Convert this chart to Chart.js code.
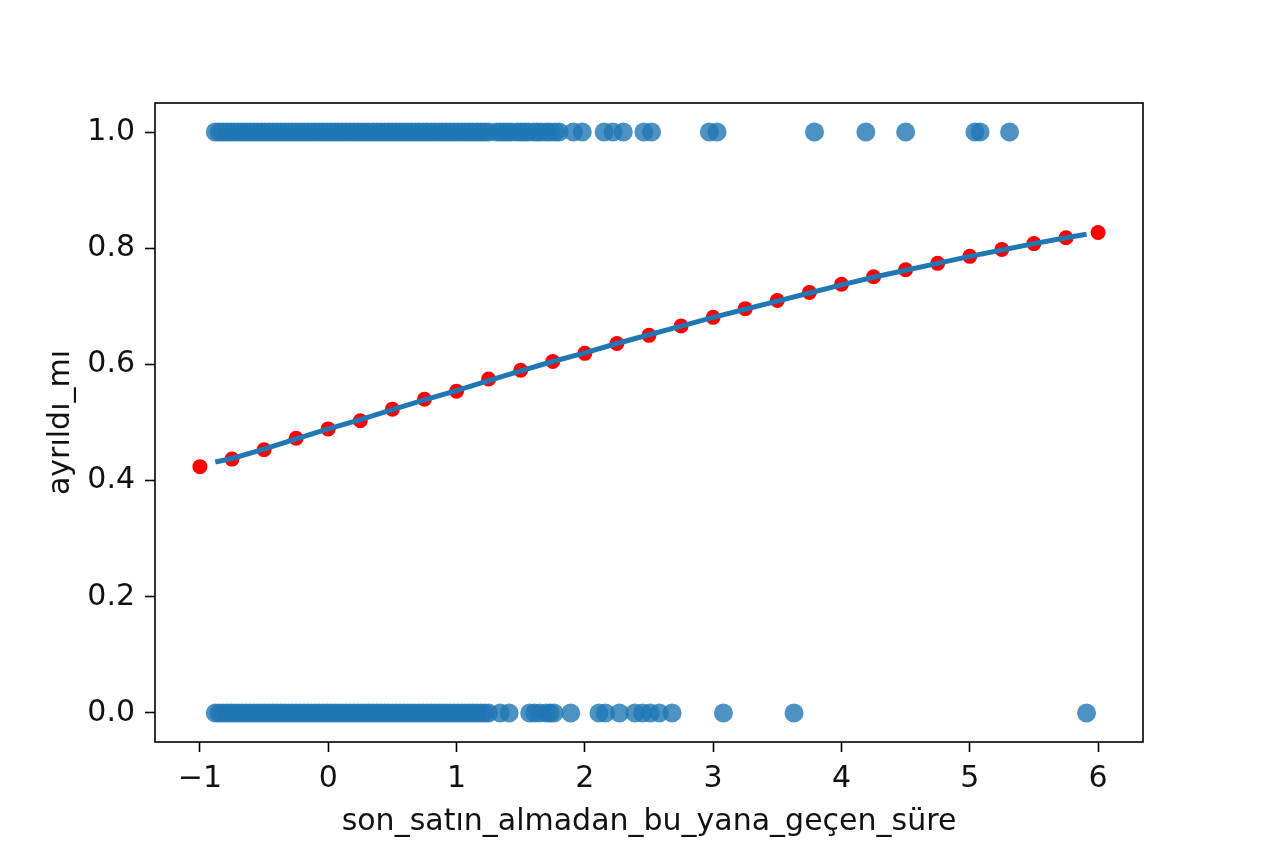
<!DOCTYPE html>
<html lang="tr">
<head>
  <meta charset="utf-8">
  <title>ayrıldı_mı ~ son_satın_almadan_bu_yana_geçen_süre</title>
  <style>
    html, body { margin: 0; padding: 0; background: #fff; }
    #chart { display: block; }
  </style>
</head>
<body>
  <canvas id="chart" width="1264" height="848"></canvas>
  <script src="https://cdn.jsdelivr.net/npm/chart.js@4/dist/chart.umd.min.js"></script>
  <script>
    // observed points, y = 1
    const onesX = [-0.88, -0.85, -0.82, -0.79, -0.76, -0.73, -0.70, -0.67, -0.64, -0.61,
      -0.58, -0.55, -0.52, -0.49, -0.46, -0.43, -0.40, -0.37, -0.34, -0.31, -0.28, -0.25,
      -0.22, -0.19, -0.16, -0.13, -0.10, -0.07, -0.04, -0.01, 0.02, 0.05, 0.08, 0.11, 0.14,
      0.17, 0.20, 0.23, 0.26, 0.29, 0.32, 0.35, 0.38, 0.41, 0.44, 0.47, 0.50, 0.53, 0.56,
      0.59, 0.62, 0.65, 0.68, 0.71, 0.74, 0.77, 0.80, 0.83, 0.86, 0.89, 0.92, 0.95, 0.98,
      1.01, 1.04, 1.07, 1.10, 1.13, 1.16, 1.19, 1.22, 1.25,
      1.31, 1.34, 1.37, 1.40, 1.43, 1.47, 1.50, 1.53, 1.56, 1.60, 1.63, 1.66, 1.70, 1.73,
      1.77, 1.80, 1.91, 1.98, 2.15, 2.22, 2.30, 2.46, 2.52, 2.97, 3.03, 3.79, 4.19, 4.50,
      5.04, 5.08, 5.31];

    // observed points, y = 0
    const zerosX = [-0.88, -0.85, -0.82, -0.79, -0.76, -0.73, -0.70, -0.67, -0.64, -0.61,
      -0.58, -0.55, -0.52, -0.49, -0.46, -0.43, -0.40, -0.37, -0.34, -0.31, -0.28, -0.25,
      -0.22, -0.19, -0.16, -0.13, -0.10, -0.07, -0.04, -0.01, 0.02, 0.05, 0.08, 0.11, 0.14,
      0.17, 0.20, 0.23, 0.26, 0.29, 0.32, 0.35, 0.38, 0.41, 0.44, 0.47, 0.50, 0.53, 0.56,
      0.59, 0.62, 0.65, 0.68, 0.71, 0.74, 0.77, 0.80, 0.83, 0.86, 0.89, 0.92, 0.95, 0.98,
      1.01, 1.04, 1.07, 1.10, 1.13, 1.16, 1.19, 1.22, 1.25,
      1.34, 1.41, 1.57, 1.61, 1.65, 1.70, 1.73, 1.76, 1.89, 2.11, 2.16, 2.27, 2.39, 2.45,
      2.51, 2.58, 2.68, 3.08, 3.63, 5.91];

    // predicted probabilities (red dots)
    const predX = [-1, -0.75, -0.5, -0.25, 0, 0.25, 0.5, 0.75, 1, 1.25, 1.5, 1.75, 2, 2.25,
      2.5, 2.75, 3, 3.25, 3.5, 3.75, 4, 4.25, 4.5, 4.75, 5, 5.25, 5.5, 5.75, 6];
    const predY = [0.424, 0.437, 0.453, 0.473, 0.489, 0.503, 0.523, 0.540, 0.554, 0.575,
      0.590, 0.605, 0.619, 0.636, 0.650, 0.666, 0.681, 0.696, 0.710, 0.724, 0.738, 0.751,
      0.763, 0.774, 0.786, 0.798, 0.808, 0.818, 0.827];

    // fitted curve
    const fitX = [-0.88, -0.75, -0.5, -0.25, 0, 0.25, 0.5, 0.75, 1, 1.25, 1.5, 1.75, 2, 2.25,
      2.5, 2.75, 3, 3.25, 3.5, 3.75, 4, 4.25, 4.5, 4.75, 5, 5.25, 5.5, 5.75, 5.91];
    const fitY = [0.432, 0.438, 0.454, 0.472, 0.489, 0.505, 0.522, 0.539, 0.555, 0.572,
      0.589, 0.605, 0.620, 0.636, 0.651, 0.666, 0.681, 0.695, 0.709, 0.723, 0.737, 0.750,
      0.762, 0.774, 0.786, 0.797, 0.808, 0.818, 0.824];

    const xTicks = [-1, 0, 1, 2, 3, 4, 5, 6];
    const yTicks = [0, 0.2, 0.4, 0.6, 0.8, 1.0];

    const font = { family: 'DejaVu Sans', size: 30 };
    const ink = '#111';

    // matplotlib style box around the axes
    const frame = {
      id: 'frame',
      afterDraw(chart) {
        const { ctx, chartArea: a } = chart;
        ctx.save();
        ctx.strokeStyle = '#000';
        ctx.lineWidth = 1.6;
        ctx.strokeRect(a.left, a.top, a.right - a.left, a.bottom - a.top);
        ctx.restore();
      }
    };

    new Chart(document.getElementById('chart'), {
      type: 'scatter',
      data: {
        datasets: [
          {
            type: 'line',
            data: fitX.map((x, i) => ({ x: x, y: fitY[i] })),
            borderColor: '#1f77b4',
            borderWidth: 5,
            pointRadius: 0,
            fill: false,
            tension: 0,
            order: 0
          },
          {
            data: predX.map((x, i) => ({ x: x, y: predY[i] })),
            backgroundColor: '#ff0000',
            borderWidth: 0,
            pointRadius: 7.5,
            order: 1
          },
          {
            data: onesX.map(x => ({ x: x, y: 1 })).concat(zerosX.map(x => ({ x: x, y: 0 }))),
            backgroundColor: 'rgba(31,119,180,0.8)',
            borderWidth: 0,
            pointRadius: 9.5,
            order: 2
          }
        ]
      },
      options: {
        responsive: false,
        animation: false,
        layout: { padding: { top: 103, right: 121, left: 0, bottom: 0 } },
        plugins: { legend: { display: false }, tooltip: { enabled: false } },
        scales: {
          x: {
            type: 'linear',
            min: -1.35,
            max: 6.35,
            afterBuildTicks: s => { s.ticks = xTicks.map(v => ({ value: v })); },
            afterFit: s => { s.height = 106; },
            ticks: {
              font: font,
              color: ink,
              padding: 9,
              callback: v => v < 0 ? '\u2212' + Math.abs(v) : String(v)
            },
            grid: { drawOnChartArea: false, tickLength: 10, tickColor: '#000', tickWidth: 1.6 },
            border: { display: false },
            title: {
              display: true,
              text: 'son_satın_almadan_bu_yana_geçen_süre',
              font: font,
              color: ink,
              padding: { top: 0, bottom: 8 }
            }
          },
          y: {
            min: -0.05,
            max: 1.05,
            afterBuildTicks: s => { s.ticks = yTicks.map(v => ({ value: v })); },
            afterFit: s => { s.width = 155; },
            ticks: {
              font: font,
              color: ink,
              padding: 10,
              callback: v => v.toFixed(1)
            },
            grid: { drawOnChartArea: false, tickLength: 10, tickColor: '#000', tickWidth: 1.6 },
            border: { display: false },
            title: {
              display: true,
              text: 'ayrıldı_mı',
              font: font,
              color: ink,
              padding: { top: 43, bottom: 0 }
            }
          }
        }
      },
      plugins: [frame]
    });
  </script>
</body>
</html>
